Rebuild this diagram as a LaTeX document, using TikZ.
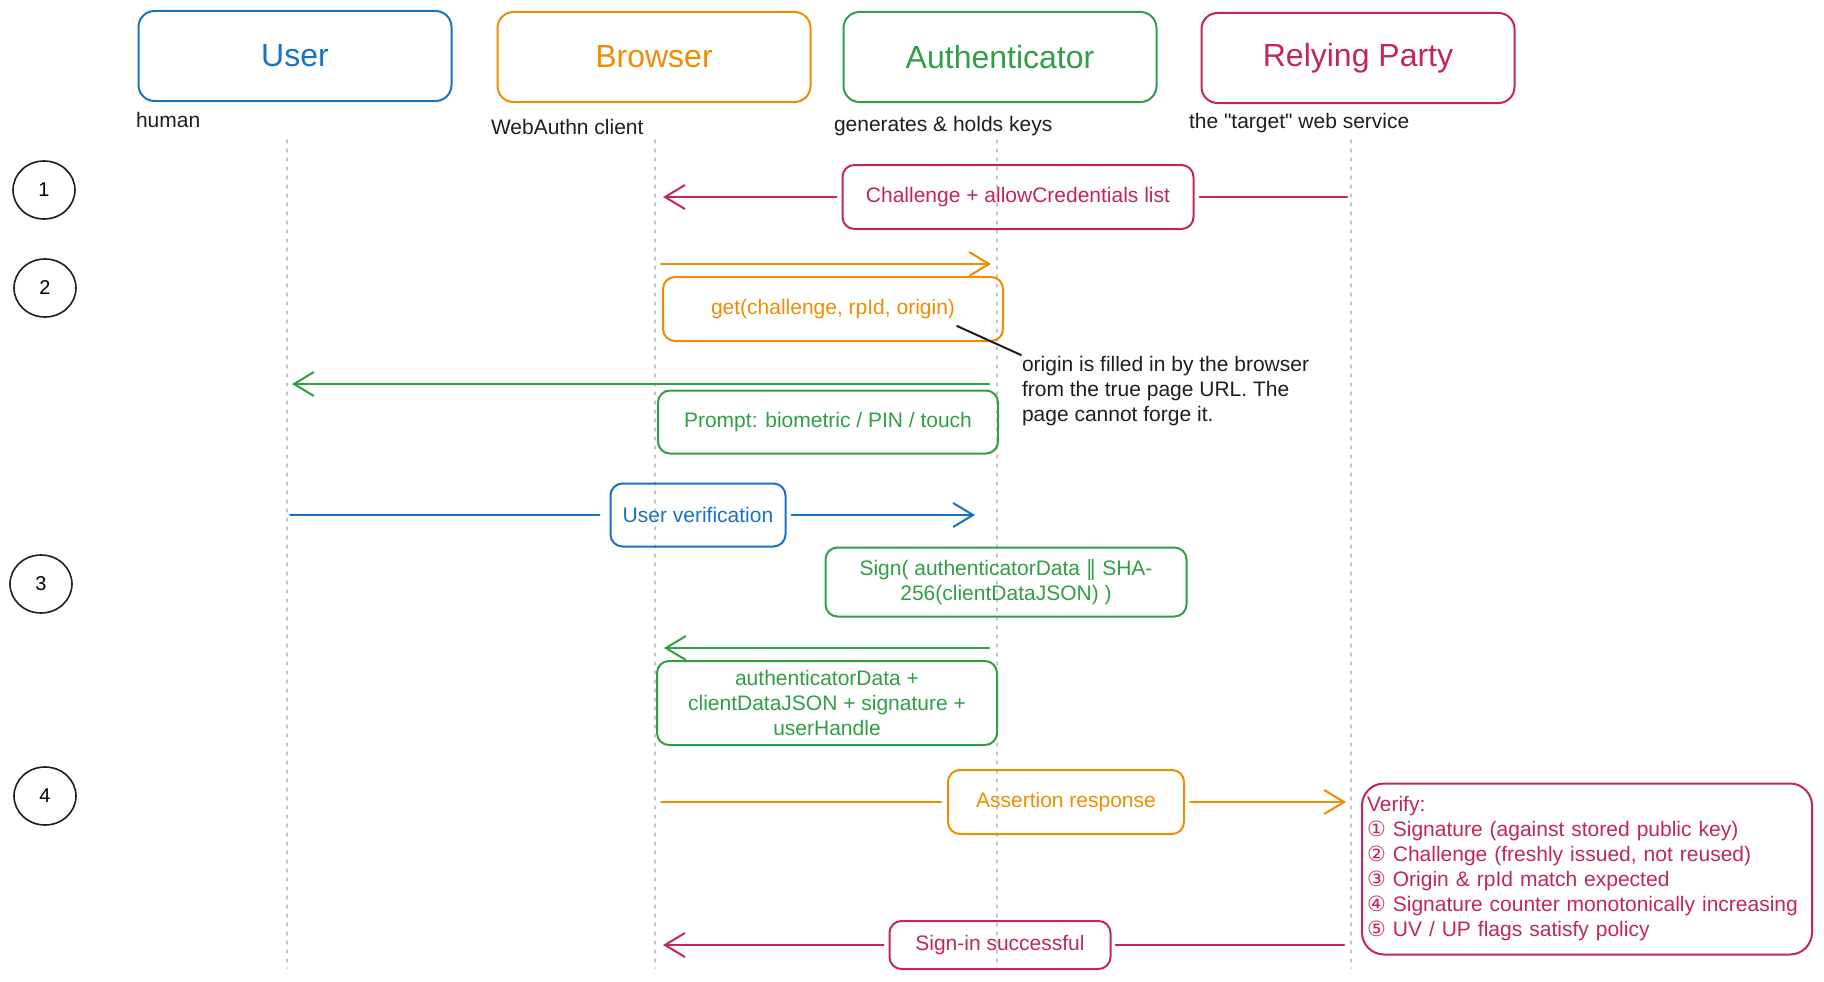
\documentclass[tikz,border=0pt]{standalone}
\usepackage{fontspec}
\setmainfont{Liberation Sans}[Ligatures=TeXOff]
\newfontfamily\symfont{DejaVu Sans}
\usepackage{xcolor}
\usetikzlibrary{arrows.meta, positioning, calc, shapes.geometric}
\definecolor{uablue}{HTML}{1971C2}
\definecolor{uaorange}{HTML}{F08C00}
\definecolor{uagreen}{HTML}{2F9E44}
\definecolor{uared}{HTML}{C2255C}
\definecolor{uaink}{HTML}{1E1E1E}

\begin{document}
\begin{tikzpicture}[x=1pt, y=-1pt, line width=2pt, line cap=round, line join=round,
  actor/.style={draw, rounded corners=16pt, minimum width=313pt, minimum height=90pt, font=\fontsize{32}{38}\selectfont},
  sub/.style={anchor=west, inner sep=0pt, text=uaink, font=\fontsize{21}{25}\selectfont},
  msgbox/.style={draw, rounded corners=12pt, align=center, inner sep=0pt, font=\fontsize{21}{25}\selectfont},
  stepmark/.style={draw=uaink, ellipse, line width=1.6pt, minimum width=62pt, minimum height=58pt, font=\fontsize{20}{25}\selectfont},
  lifeline/.style={draw=gray!45, line width=1.5pt, dash pattern=on 3pt off 6pt},
  msgtip/.style={-{Straight Barb[length=20pt,width=24pt]}}]
\useasboundingbox (0,0) rectangle (1824,982);

% Lifelines
\foreach \n/\x in {lu/287, lb/655, la/997, lr/1351} {
    \coordinate (\n) at (\x,140);
    \draw[lifeline] (\n) -- ++(0,828);
}

% Participants
\node[actor, uablue] (user) at (295,56) {User};
\node[actor, uaorange] (browser) at (654,57) {Browser};
\node[actor, uagreen] (auth) at (1000,57) {Authenticator};
\node[actor, uared] (rp) at (1358,58) {Relying Party};
\node[sub] (user-sub) at (135,120) {human};
\node[sub] (browser-sub) at (490,127) {WebAuthn client};
\node[sub] (auth-sub) at (833,126) {generates \& holds keys};
\node[sub] (rp-sub) at (1188,123) {the "target" web service};

% Step markers
\node[stepmark] (s1) at (44,190) {1};
\node[stepmark] (s2) at (45,288) {2};
\node[stepmark] (s3) at (41,584) {3};
\node[stepmark] (s4) at (45,796) {4};

% Message rows
\foreach \n/\y in {r1/197, r2/264, r3/384, r4/515, r6/648, r7/802, r8/945}
    \coordinate (\n) at (0,\y);

% Step 1
\node[msgbox, uared, minimum width=351pt, minimum height=64pt] (m1) at (1018,197) {Challenge + allowCredentials list};
\draw[uared, shorten <=4pt, shorten >=5pt] (lr |- r1) -- (m1);
\draw[uared, msgtip, shorten <=5pt, shorten >=8pt] (m1) -- (lb |- r1);

% Step 2
\draw[uaorange, msgtip, shorten <=6pt, shorten >=6pt] (lb |- r2) -- (la |- r2);
\node[msgbox, uaorange, minimum width=340pt, minimum height=64pt] (m2) at (833,309) {get(challenge, rpId, origin)};
\coordinate (orig) at (957,326);
\node[sub, anchor=north west, align=left] (note) at (1021,355) {origin is filled in by the browser\\from the true page URL. The\\page cannot forge it.};
\draw[uaink] (orig) -- (note.north west);

\draw[uagreen, msgtip, shorten <=8pt, shorten >=5pt] (la |- r3) -- (lu |- r3);
\node[msgbox, uagreen, minimum width=340pt, minimum height=63pt] (m3) at (828,422) {Prompt: biometric / PIN / touch};

\node[msgbox, uablue, minimum width=175pt, minimum height=63pt] (m4) at (698,515) {User verification};
\draw[uablue, shorten <=3pt, shorten >=10pt] (lu |- r4) -- (m4);
\draw[uablue, msgtip, shorten <=5pt, shorten >=22pt] (m4) -- (la |- r4);

% Step 3
\node[msgbox, uagreen, minimum width=361pt, minimum height=69pt] (m5) at (1006,582) {Sign( authenticatorData {\symfont ‖} SHA-\\256(clientDataJSON) )};

\draw[uagreen, msgtip, shorten <=8pt, shorten >=9pt] (la |- r6) -- (lb |- r6);
\node[msgbox, uagreen, minimum width=340pt, minimum height=84pt] (m6) at (827,703) {authenticatorData +\\clientDataJSON + signature +\\userHandle};

% Step 4
\node[msgbox, uaorange, minimum width=236pt, minimum height=64pt] (m7) at (1066,802) {Assertion response};
\draw[uaorange, shorten <=6pt, shorten >=6pt] (lb |- r7) -- (m7);
\draw[uaorange, msgtip, shorten <=5pt, shorten >=5pt] (m7) -- (lr |- r7);

\node[draw=uared, text=uared, rounded corners=22pt, text width=440pt, inner sep=5pt, minimum height=171pt, align=left, font=\fontsize{21}{25}\selectfont] (verify) at (1587,869) {Verify:\\
{\symfont ①} Signature (against stored public key)\\
{\symfont ②} Challenge (freshly issued, not reused)\\
{\symfont ③} Origin \& rpId match expected\\
{\symfont ④} Signature counter monotonically increasing\\
{\symfont ⑤} UV / UP flags satisfy policy};

\node[msgbox, uared, minimum width=221pt, minimum height=48pt] (m8) at (1000,945) {Sign-in successful};
\draw[uared, shorten <=7pt, shorten >=4pt] (lr |- r8) -- (m8);
\draw[uared, msgtip, shorten <=5pt, shorten >=8pt] (m8) -- (lb |- r8);
\end{tikzpicture}
\end{document}
